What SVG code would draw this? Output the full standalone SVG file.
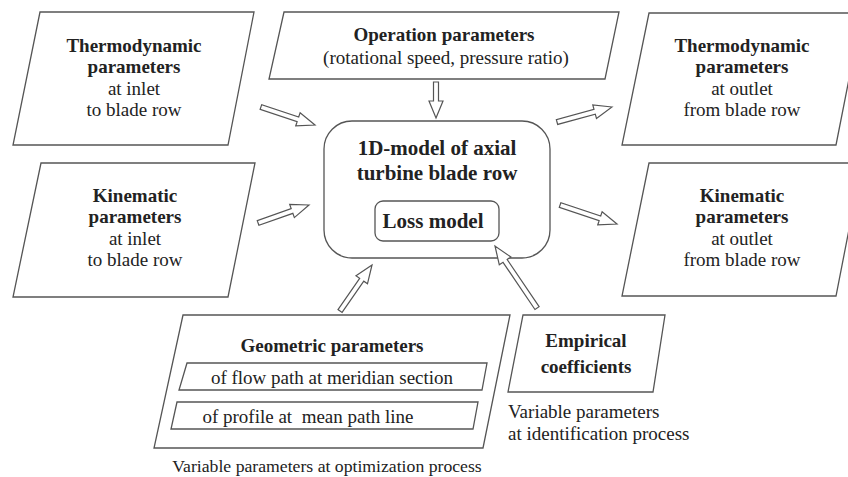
<svg xmlns="http://www.w3.org/2000/svg" width="848" height="477" viewBox="0 0 848 477">
<style>
.box{fill:#fff;stroke:#555;stroke-width:1.3}
.arr{fill:#fff;stroke:#555;stroke-width:1.2;stroke-linejoin:miter}
text{font-family:'Liberation Serif','Times New Roman','DejaVu Serif',serif;font-size:19px;fill:#222;text-anchor:middle}
.b{font-weight:bold}
.big{font-weight:bold;font-size:21px}
.l{text-anchor:start}
.cap{font-size:17.7px}
</style>
<rect width="848" height="477" fill="#fff"/>
<g id="thermo-inlet">
<polygon class="box" points="40,12 254,12 228,145 13,145"/>
<text x="134" y="52" class="b">Thermodynamic</text>
<text x="134" y="73" class="b">parameters</text>
<text x="134" y="95">at inlet</text>
<text x="134" y="116">to blade row</text>
</g>
<g id="kinematic-inlet">
<polygon class="box" points="41,163 255,163 228,297 13,297"/>
<text x="135" y="202" class="b">Kinematic</text>
<text x="135" y="223" class="b">parameters</text>
<text x="135" y="245">at inlet</text>
<text x="135" y="266">to blade row</text>
</g>
<g id="operation">
<polygon class="box" points="284,12 619,12 605,79 269,79"/>
<text x="444" y="41" class="b">Operation parameters</text>
<text x="446" y="64">(rotational speed, pressure ratio)</text>
</g>
<g id="thermo-outlet">
<polygon class="box" points="649,13 862,13 836,145 622,145"/>
<text x="742" y="52" class="b">Thermodynamic</text>
<text x="742" y="73" class="b">parameters</text>
<text x="742" y="95">at outlet</text>
<text x="742" y="116">from blade row</text>
</g>
<g id="kinematic-outlet">
<polygon class="box" points="649,163 862,163 836,296 622,296"/>
<text x="742" y="202" class="b">Kinematic</text>
<text x="742" y="223" class="b">parameters</text>
<text x="742" y="245">at outlet</text>
<text x="742" y="266">from blade row</text>
</g>
<g id="model">
<rect class="box" x="324" y="121" width="226" height="137" rx="28" ry="28"/>
<text x="437" y="155" class="big">1D-model of axial</text>
<text x="437" y="180" class="big">turbine blade row</text>
</g>
<g id="loss-model">
<rect class="box" x="375" y="201" width="124" height="40" rx="8" ry="8"/>
<text x="433" y="228" class="big">Loss model</text>
</g>
<g id="geometric">
<polygon class="box" points="183,315 510,315 483,448 154,448"/>
<text x="332" y="352" class="b">Geometric parameters</text>
<polygon class="box" points="187,363 487,363 482,390 179,390"/>
<text x="332" y="384">of flow path at meridian section</text>
<polygon class="box" points="177,402 478,402 473,429 171,429"/>
<text x="308" y="423" xml:space="preserve">of profile at  mean path line</text>
<text x="327" y="472" class="cap">Variable parameters at optimization process</text>
</g>
<g id="empirical">
<polygon class="box" points="523,315 665,315 653,392 508,392"/>
<text x="586" y="347" class="b">Empirical</text>
<text x="586" y="373" class="b">coefficients</text>
<text x="508" y="418" class="l">Variable parameters</text>
<text x="508" y="440" class="l">at identification process</text>
</g>
<g id="connectors">
<polygon class="arr" transform="translate(315,125) rotate(18.4)" points="0,0 -18,-7 -18,-2.5 -57,-2.5 -57,2.5 -18,2.5 -18,7"/>
<polygon class="arr" transform="translate(436,118) rotate(90)" points="0,0 -17,-7 -17,-2.5 -36,-2.5 -36,2.5 -17,2.5 -17,7"/>
<polygon class="arr" transform="translate(612,107) rotate(-15.3)" points="0,0 -18,-7 -18,-2.5 -57,-2.5 -57,2.5 -18,2.5 -18,7"/>
<polygon class="arr" transform="translate(309,205) rotate(-19.4)" points="0,0 -18,-7 -18,-2.5 -54,-2.5 -54,2.5 -18,2.5 -18,7"/>
<polygon class="arr" transform="translate(617,224) rotate(18.4)" points="0,0 -18,-7 -18,-2.5 -60,-2.5 -60,2.5 -18,2.5 -18,7"/>
<polygon class="arr" transform="translate(372,265) rotate(-55.2)" points="0,0 -18,-7 -18,-2.5 -56,-2.5 -56,2.5 -18,2.5 -18,7"/>
<polygon class="arr" transform="translate(495,246) rotate(-124.1)" points="0,0 -18,-7 -18,-2.5 -75,-2.5 -75,2.5 -18,2.5 -18,7"/>
</g>
</svg>
